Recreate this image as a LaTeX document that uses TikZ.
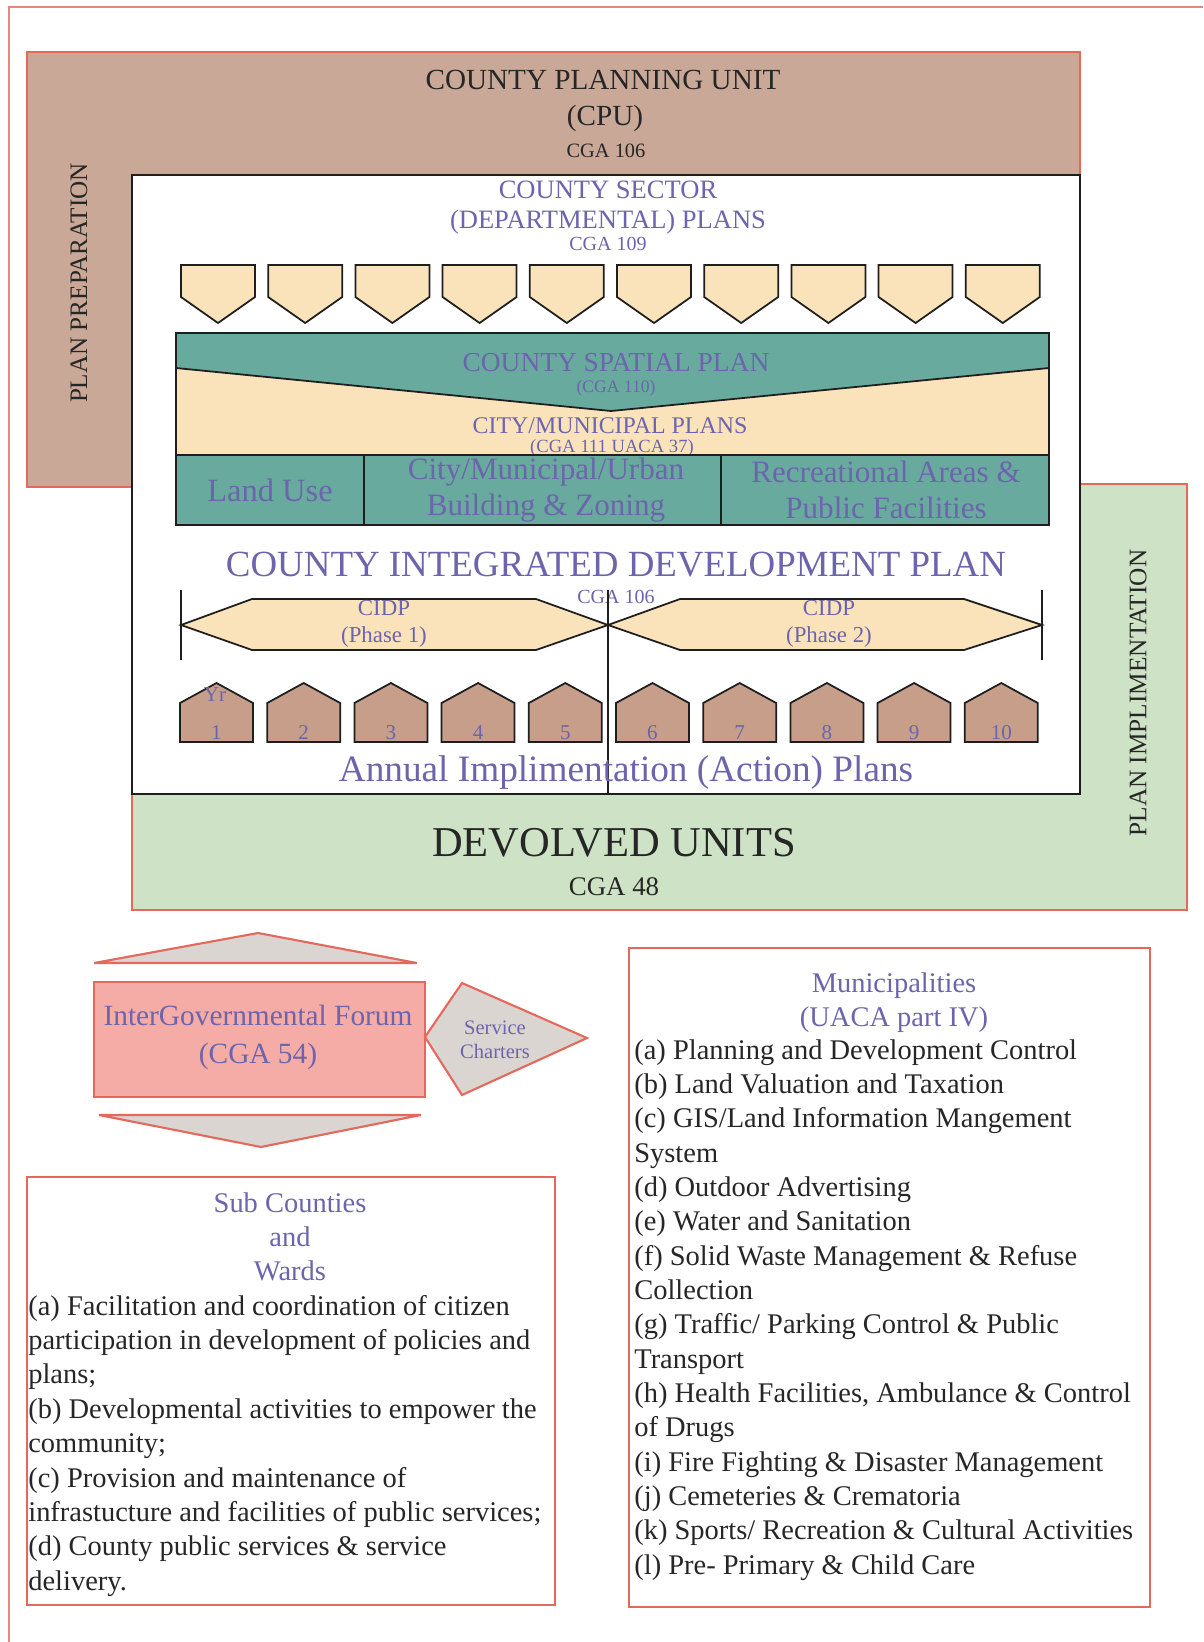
\documentclass[tikz,border=0pt]{standalone}
\usepackage{fontspec}
\setmainfont{Liberation Serif}
\usepackage{xcolor}
\definecolor{CpuBrown}  {RGB}{201, 168, 151}
\definecolor{DevGreen}  {RGB}{206, 226, 197}
\definecolor{Teal}      {RGB}{104, 171, 158}
\definecolor{Sand}      {RGB}{250, 227, 186}
\definecolor{HouseBrown}{RGB}{198, 158, 138}
\definecolor{Slate}     {RGB}{108, 100, 172}
\definecolor{Brick}     {RGB}{228, 104,  92}
\definecolor{Salmon}    {RGB}{245, 172, 166}
\definecolor{Ash}       {RGB}{218, 213, 209}
\definecolor{Ink}       {RGB}{ 30,  30,  30}
\usepackage{tikz}

\begin{document}
\begin{tikzpicture}[
  unitbox/.style  = {draw=Brick, line width=1.1pt, inner sep=0pt},
  planbox/.style  = {draw=Ink, fill=white, line width=1.3pt, inner sep=0pt},
  cell/.style     = {draw=Ink, fill=Teal, line width=1pt, inner sep=0pt},
  capshape/.style = {draw=Ink, fill=Sand, line width=1pt},
  house/.style    = {draw=Ink, fill=HouseBrown, line width=1pt},
  forum/.style    = {draw=Brick, fill=Ash, line width=1.2pt},
  hdr/.style      = {text=black!85},
  plbl/.style     = {text=Slate, align=center},
  listtxt/.style  = {font=\fontsize{16.2}{19.5}\selectfont, text=black!85,
                     inner sep=0pt, anchor=base west}
]
  \useasboundingbox (0,0) rectangle (24.06,-32.84);

  %% page frame
  \draw[Brick!80, line width=1pt] (24.06,-0.14) -- (0.18,-0.14) -- (0.18,-32.84);

  %% Planning unit and devolved units behind the plan frame
  \node[unitbox, fill=CpuBrown, minimum width=21.06cm, minimum height=8.70cm]
    (cpu) at (11.07,-5.39) {};
  \node[unitbox, fill=DevGreen, minimum width=21.10cm, minimum height=8.52cm]
    (dev) at (13.19,-13.94) {};
  \node[planbox, minimum width=18.96cm, minimum height=12.38cm]
    (frame) at (12.12,-9.69) {};

  \node[hdr, font=\fontsize{16.6}{20}\selectfont] (cpu-t) at (12.06,-1.60) {COUNTY PLANNING UNIT};
  \node[hdr, font=\fontsize{16.6}{20}\selectfont] (cpu-a) at (12.10,-2.36) {(CPU)};
  \node[hdr, font=\fontsize{11.6}{14}\selectfont] (cpu-c) at (12.12,-3.02) {CGA 106};
  \node[hdr, rotate=90, font=\fontsize{14.3}{17}\selectfont]
    (prep) at (1.58,-5.66) {PLAN PREPARATION};
  \node[hdr, rotate=90, font=\fontsize{14.4}{17}\selectfont]
    (impl) at (22.76,-13.86) {PLAN IMPLIMENTATION};

  %% Sector plans
  \node[plbl, font=\fontsize{15.1}{18}\selectfont] (sec-t) at (12.16,-3.80) {COUNTY SECTOR};
  \node[plbl, font=\fontsize{15.1}{18}\selectfont] (sec-a) at (12.16,-4.44) {(DEPARTMENTAL) PLANS};
  \node[plbl, font=\fontsize{11.4}{14}\selectfont] (sec-c) at (12.16,-4.88) {CGA 109};
  \foreach \i in {0,...,9}
    \draw[capshape, xshift={1.744cm*\i}]
      (3.62,-5.30) -- (5.10,-5.30) -- (5.10,-5.94) -- (4.36,-6.46) -- (3.62,-5.94) -- cycle;

  %% Spatial and municipal plans
  \fill[Teal] (3.52,-6.66) rectangle (20.98,-9.10);
  \fill[Sand] (3.52,-7.36) -- (12.22,-8.22) -- (20.98,-7.36) -- (20.98,-9.10) -- (3.52,-9.10) -- cycle;
  \draw[Ink, line width=1pt] (3.52,-7.36) -- (12.22,-8.22) -- (20.98,-7.36);
  \draw[Ink, line width=1pt] (3.52,-6.66) rectangle (20.98,-9.10);
  \node[plbl, font=\fontsize{15.6}{19}\selectfont, inner sep=0pt] (spatial) at (12.32,-7.26) {COUNTY SPATIAL PLAN};
  \node[plbl, font=\fontsize{10}{12}\selectfont, inner sep=0pt] (spatial-c) at (12.32,-7.76) {(CGA 110)};
  \node[plbl, font=\fontsize{13.6}{16}\selectfont, inner sep=0pt] (city) at (12.20,-8.52) {CITY/MUNICIPAL PLANS};
  \node[plbl, font=\fontsize{10.6}{13}\selectfont, inner sep=0pt] (city-c) at (12.24,-8.96) {(CGA 111 UACA 37)};

  \node[cell, minimum width=3.76cm, minimum height=1.40cm] (landuse) at (5.40,-9.80) {};
  \node[cell, minimum width=7.14cm, minimum height=1.40cm] (zoning)  at (10.85,-9.80) {};
  \node[cell, minimum width=6.56cm, minimum height=1.40cm] (recre)   at (17.70,-9.80) {};
  \node[plbl, font=\fontsize{18.5}{20}\selectfont] (landuse-t) at (landuse) {Land Use};
  \node[plbl, font=\fontsize{17.7}{20.4}\selectfont, inner sep=0pt]
    (zoning-t) at (10.92,-9.80) {City/Municipal/Urban\\Building \& Zoning};
  \node[plbl, font=\fontsize{17.7}{20.4}\selectfont, inner sep=0pt]
    (recre-t) at (17.72,-9.80) {Recreational Areas \&\\Public Facilities};

  %% Integrated development plan
  \node[plbl, font=\fontsize{21}{24}\selectfont] (cidp) at (12.32,-11.30)
    {COUNTY INTEGRATED DEVELOPMENT PLAN};
  \node[plbl, font=\fontsize{11.4}{14}\selectfont, inner sep=0.5pt]
    (cidp-c) at (12.32,-11.94) {CGA 106};
  \draw[Ink, line width=1pt] (3.62,-11.80) -- (3.62,-13.20);
  \draw[Ink, line width=1pt] (20.84,-11.80) -- (20.84,-13.20);
  \draw[Ink, line width=1pt] (12.16,-11.80) -- (12.16,-15.88);
  \draw[capshape] (3.62,-12.50) -- (5.04,-11.98) -- (10.72,-11.98) -- (12.16,-12.50)
    -- (10.72,-13.00) -- (5.04,-13.00) -- cycle;
  \draw[capshape] (12.16,-12.50) -- (13.60,-11.98) -- (19.28,-11.98) -- (20.84,-12.50)
    -- (19.28,-13.00) -- (13.60,-13.00) -- cycle;
  \node[plbl, font=\fontsize{13}{15.3}\selectfont] (ph1) at (7.68,-12.47) {CIDP\\(Phase 1)};
  \node[plbl, font=\fontsize{13}{15.3}\selectfont] (ph2) at (16.58,-12.47) {CIDP\\(Phase 2)};

  %% Annual plans
  \foreach \n [count=\i from 0] in {1,...,10} {
    \draw[house, xshift={1.744cm*\i}]
      (3.60,-14.84) -- (3.60,-14.06) -- (4.33,-13.66) -- (5.06,-14.06) -- (5.06,-14.84) -- cycle;
    \node[plbl, font=\fontsize{12}{14}\selectfont] (yr-\n) at ({4.33+1.744*\i},-14.66) {\n};
  }
  \node[plbl, font=\fontsize{12}{14}\selectfont] (yr-lbl) at (4.30,-13.90) {Yr};
  \node[plbl, font=\fontsize{21.2}{24}\selectfont] (annual) at (12.52,-15.46)
    {Annual Implimentation (Action) Plans};

  %% Devolved units
  \node[hdr, font=\fontsize{24.2}{28}\selectfont] (dev-t) at (12.28,-16.86) {DEVOLVED UNITS};
  \node[hdr, font=\fontsize{15.3}{18}\selectfont] (dev-c) at (12.28,-17.74) {CGA 48};

  %% Intergovernmental forum
  \draw[forum] (1.88,-19.26) -- (5.16,-18.66) -- (8.34,-19.26) -- cycle;
  \draw[forum] (1.98,-22.30) -- (5.22,-22.94) -- (8.42,-22.30) -- cycle;
  \node[unitbox, fill=Salmon, line width=1.3pt, minimum width=6.62cm, minimum height=2.30cm]
    (igf) at (5.19,-20.79) {};
  \node[plbl, font=\fontsize{16.7}{22}\selectfont] (igf-t) at (5.16,-20.75)
    {InterGovernmental Forum\\(CGA 54)};
  \draw[forum] (8.50,-20.74) -- (9.24,-19.66) -- (11.74,-20.76) -- (9.24,-21.90) -- cycle;
  \node[plbl, font=\fontsize{11.7}{13.6}\selectfont] (charter) at (9.90,-20.80)
    {Service\\Charters};

  %% Sub counties and wards
  \node[unitbox, minimum width=10.56cm, minimum height=8.56cm] (subc) at (5.82,-27.82) {};
  \foreach \hd [count=\k from 0] in {Sub Counties, and, Wards}
    \node[plbl, font=\fontsize{16.2}{19.5}\selectfont, inner sep=0pt, anchor=base]
      (subc-h\k) at (5.80,{-24.24-0.68*\k}) {\hd};
  \foreach \ln [count=\k from 0] in {
      {(a) Facilitation and coordination of citizen},
      {participation in development of policies and},
      {plans;},
      {(b) Developmental activities to empower the},
      {community;},
      {(c) Provision and maintenance of},
      {infrastucture and facilities of public services;},
      {(d) County public services \& service},
      {delivery.}}
    \node[listtxt] (subc-\k) at (0.56,{-26.30-0.688*\k}) {\ln};

  %% Municipalities
  \node[unitbox, minimum width=10.42cm, minimum height=13.18cm] (muni) at (17.79,-25.55) {};
  \node[plbl, font=\fontsize{16.2}{19.5}\selectfont, inner sep=0pt, anchor=base]
    (muni-h0) at (17.88,-19.84) {Municipalities};
  \node[plbl, font=\fontsize{16.2}{19.5}\selectfont, inner sep=0pt, anchor=base]
    (muni-h1) at (17.88,-20.52) {(UACA part IV)};
  \foreach \ln [count=\k from 0] in {
      {(a) Planning and Development Control},
      {(b) Land Valuation and Taxation},
      {(c) GIS/Land Information Mangement},
      {System},
      {(d) Outdoor Advertising},
      {(e) Water and Sanitation},
      {(f) Solid Waste Management \& Refuse},
      {Collection},
      {(g) Traffic/ Parking Control \& Public},
      {Transport},
      {(h) Health Facilities, Ambulance \& Control},
      {of Drugs},
      {(i) Fire Fighting \& Disaster Management},
      {(j) Cemeteries \& Crematoria},
      {(k) Sports/ Recreation \& Cultural Activities},
      {(l) Pre- Primary \& Child Care}}
    \node[listtxt] (muni-\k) at (12.68,{-21.18-0.687*\k}) {\ln};
\end{tikzpicture}
\end{document}
